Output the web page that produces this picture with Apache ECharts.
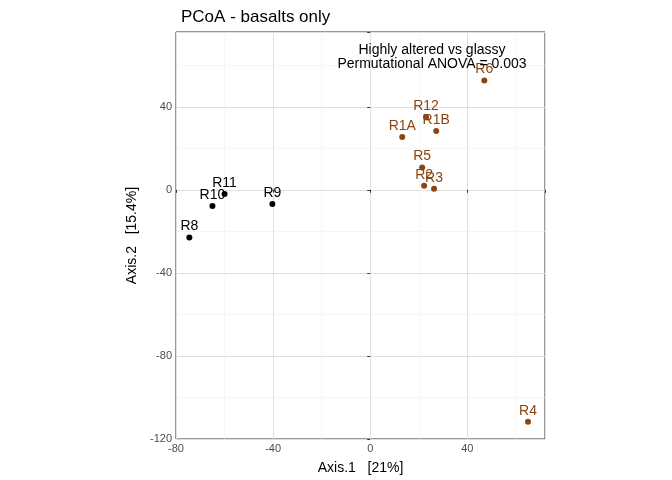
<!DOCTYPE html>
<html><head><meta charset="utf-8">
<script src="https://cdn.jsdelivr.net/npm/echarts@6/dist/echarts.min.js"></script>
<style>body{margin:0}#c{width:672px;height:480px}</style></head>
<body><div id="c"></div>
<script>
const glassyNames=['R8','R10','R11','R9'];
const glassyX=[-74.5,-65,-60,-40.3];
const glassyY=[-23,-7.8,-2,-6.8];
const alteredNames=['R1A','R12','R1B','R5','R2','R3','R6','R4'];
const alteredX=[13.2,23,27.2,21.4,22.2,26.3,47,65];
const alteredY=[25.4,35,28.3,10.7,2,0.5,52.7,-111.7];
const xTicks=[-80,-40,0,40];
const yTicks=[-120,-80,-40,0,40];
const mk=(n,x,y)=>n.map((s,i)=>({name:s,value:[x[i],y[i]]}));
const chart=echarts.init(document.getElementById('c'));
const ax=(ticks)=>({type:'value',interval:40,
 axisLine:{show:false},axisTick:{show:true,length:3,lineStyle:{color:'#333'}},
 axisLabel:{color:'#4d4d4d',fontSize:11,margin:4,fontFamily:'Liberation Sans',formatter:v=>ticks.includes(v)?String(v):''},
 splitLine:{lineStyle:{color:'#e0e0e0',width:1}},
 minorTick:{show:false,splitNumber:2},minorSplitLine:{show:true,lineStyle:{color:'#f0f0f0',width:0.6}},
 nameLocation:'middle',nameTextStyle:{color:'#000',fontSize:14,fontFamily:'Liberation Sans'}});
const lbl=c=>({show:true,position:'top',distance:1,formatter:'{b}',color:c,fontSize:14,fontFamily:'Liberation Sans'});
chart.setOption({
 animation:false,
 title:{text:'PCoA - basalts only',left:176,top:4,textStyle:{fontSize:17,fontWeight:'normal',color:'#000',fontFamily:'Liberation Sans'}},
 grid:{left:176,right:127,top:32,bottom:40,show:true,borderColor:'#333',borderWidth:1,backgroundColor:'#fff'},
 xAxis:Object.assign(ax(xTicks),{min:-80,max:72,name:'Axis.1   [21%]',nameGap:22}),
 yAxis:Object.assign(ax(yTicks),{min:-120,max:76,name:'Axis.2   [15.4%]',nameGap:34}),
 graphic:[{type:'text',z:100,style:{text:'Highly altered vs glassy\nPermutational ANOVA = 0.003',x:432,y:43,textAlign:'center',fill:'#000',fontSize:14,lineHeight:14,fontFamily:'Liberation Sans'}}],
 series:[
  {type:'scatter',data:mk(glassyNames,glassyX,glassyY),symbolSize:6,itemStyle:{color:'#000',opacity:1},label:lbl('#000')},
  {type:'scatter',data:mk(alteredNames,alteredX,alteredY),symbolSize:6,itemStyle:{color:'#8B4513',opacity:1},label:lbl('#8B4513')}
 ]
});
</script></body></html>
